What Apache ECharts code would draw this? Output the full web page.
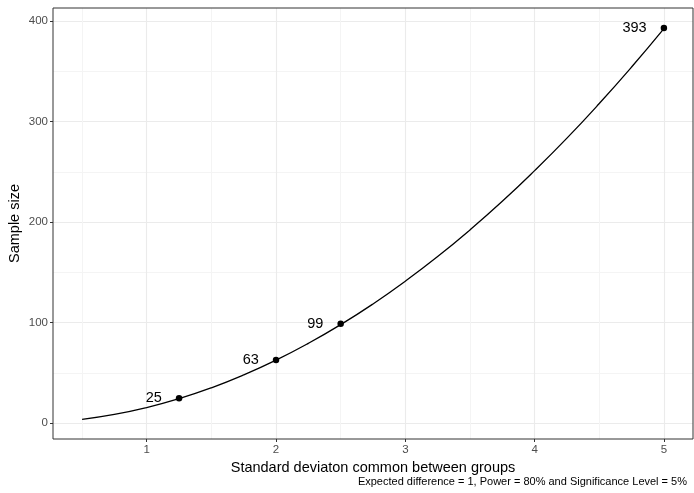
<!DOCTYPE html>
<html>
<head>
<meta charset="utf-8">
<script src="https://cdn.jsdelivr.net/npm/echarts@6/dist/echarts.min.js"></script>
<style>html,body{margin:0;padding:0;background:#fff}#c{width:694px;height:493px}</style>
</head>
<body>
<div id="c"></div>
<script>
// Curve
const curveSd = [0.5, 0.75, 1.0, 1.25, 1.5, 1.75, 2.0, 2.25, 2.5, 2.75, 3.0, 3.25, 3.5, 3.75, 4.0, 4.25, 4.5, 4.75, 5.0];
const curveN  = [3.9, 8.8, 15.7, 24.5, 35.3, 48.1, 62.8, 79.5, 98.1, 118.7, 141.3, 165.8, 192.3, 220.7, 251.2, 283.5, 317.9, 354.2, 392.4];
// Labelled points
const pointSd = [1.25, 2, 2.5, 5];
const pointN  = [25, 63, 99, 393];
// Ticks
const xTicks = [1, 2, 3, 4, 5];
const xMinor = [0.5, 1.5, 2.5, 3.5, 4.5];
const yTicks = [0, 100, 200, 300, 400];
const yMinor = [50, 150, 250, 350];

const xMin = 0.275, xMax = 5.225, yMin = -15.6, yMax = 412.9;
const FONT = 'Liberation Sans, Arial, sans-serif';

const chart = echarts.init(document.getElementById('c'), null, {renderer: 'canvas'});
chart.setOption({
  animation: false,
  backgroundColor: '#fff',
  title: {
    text: 'Expected difference = 1, Power = 80% and Significance Level = 5%',
    right: 2, bottom: 1,
    textStyle: {fontFamily: FONT, fontSize: 11, fontWeight: 'normal', color: '#000'}
  },
  grid: {left: 53, right: 1, top: 8, bottom: 54, containLabel: false, outerBoundsMode: 'none',
    show: true, borderColor: '#333', borderWidth: 1, backgroundColor: 'transparent', z: 3},
  xAxis: [
    {
      type: 'value', min: xMin, max: xMax,
      name: 'Standard deviaton common between groups', nameLocation: 'middle', nameGap: 21,
      nameMoveOverlap: false,
      nameTextStyle: {fontFamily: FONT, fontSize: 14.5, color: '#000'},
      axisLine: {show: false, onZero: false},
      axisTick: {show: true, length: 3, customValues: xTicks, lineStyle: {color: '#333'}},
      axisLabel: {customValues: xTicks, fontFamily: FONT, fontSize: 11.5, color: '#4d4d4d', margin: 5},
      splitLine: {show: true, lineStyle: {color: '#ebebeb', width: 1.1}}
    },
    {
      type: 'value', min: xMin, max: xMax, position: 'bottom',
      axisLine: {show: false, onZero: false}, axisTick: {show: false, customValues: xMinor},
      axisLabel: {show: false, customValues: xMinor},
      splitLine: {show: true, lineStyle: {color: '#f4f4f4', width: 1}}
    }
  ],
  yAxis: [
    {
      type: 'value', min: yMin, max: yMax,
      name: 'Sample size', nameLocation: 'middle', nameGap: 31,
      nameMoveOverlap: false,
      nameTextStyle: {fontFamily: FONT, fontSize: 14.5, color: '#000'},
      axisLine: {show: false, onZero: false},
      axisTick: {show: true, length: 3, customValues: yTicks, lineStyle: {color: '#333'}},
      axisLabel: {customValues: yTicks, fontFamily: FONT, fontSize: 11.5, color: '#4d4d4d', margin: 5},
      splitLine: {show: true, lineStyle: {color: '#ebebeb', width: 1.1}}
    },
    {
      type: 'value', min: yMin, max: yMax, position: 'left',
      axisLine: {show: false, onZero: false}, axisTick: {show: false, customValues: yMinor},
      axisLabel: {show: false, customValues: yMinor},
      splitLine: {show: true, lineStyle: {color: '#f4f4f4', width: 1}}
    }
  ],
  series: [
    {
      type: 'line', smooth: true, showSymbol: false, symbol: 'none',
      data: curveSd.map((s, i) => [s, curveN[i]]),
      lineStyle: {color: '#000', width: 1.3}, z: 5
    },
    {
      type: 'scatter', symbolSize: 6.5,
      data: pointSd.map((s, i) => [s, pointN[i]]),
      itemStyle: {color: '#000', opacity: 1}, z: 6,
      label: {show: true, position: 'left', distance: 14, formatter: p => String(p.value[1]),
        fontFamily: FONT, fontSize: 14.5, color: '#000'}
    }
  ]
});
</script>
</body>
</html>
